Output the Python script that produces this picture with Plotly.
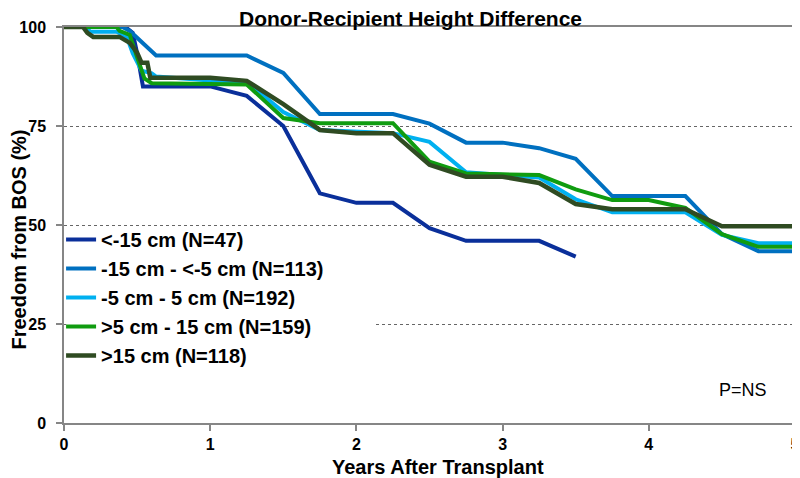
import plotly.graph_objects as go

title = "Donor-Recipient Height Difference"
x_title = "Years After Transplant"
y_title = "Freedom from BOS (%)"
p_text = "P=NS"

names = ["<-15 cm (N=47)", "-15 cm - <-5 cm (N=113)", "-5 cm - 5 cm (N=192)",
         ">5 cm - 15 cm (N=159)", ">15 cm (N=118)"]
colors = ["#0A2F9A", "#0070C0", "#00B0F0", "#109C10", "#2F4B22"]

t1 = [0, 0.42, 0.47, 0.5, 0.54, 1.0, 1.25, 1.5, 1.75, 2.0, 2.25, 2.5, 2.75, 3.0, 3.25, 3.5]
v1 = [100, 100, 98.5, 93.4, 85, 85, 82.6, 75, 58, 55.6, 55.6, 49.2, 46, 46, 46, 42]

t2 = [0, 0.4, 0.45, 0.5, 0.63, 1.25, 1.5, 1.75, 2.0, 2.25, 2.5, 2.75, 3.0, 3.25, 3.5,
      3.75, 4.0, 4.25, 4.5, 4.75, 5.0]
v2 = [100, 100, 99, 97.2, 92.8, 92.8, 88.4, 78, 78, 78, 75.6, 70.8, 70.8, 69.4, 66.7,
      57.3, 57.3, 57.3, 47.7, 43.4, 43.4]

t3 = [0, 0.15, 0.18, 0.36, 0.43, 0.47, 0.53, 0.6, 0.63, 1.0, 1.25, 1.5, 1.75, 2.0, 2.25,
      2.5, 2.75, 3.0, 3.25, 3.5, 3.75, 4.0, 4.25, 4.5, 4.75, 5.0]
v3 = [100, 100, 98.8, 98.8, 97.5, 93.4, 89, 88.3, 87.5, 86.5, 86.2, 78.5, 74, 73.6, 73.2,
      71, 63.3, 62.6, 62, 56.5, 53.2, 53.2, 53.2, 47.5, 45.4, 45.4]

t4 = [0, 0.36, 0.38, 0.45, 0.5, 0.55, 0.6, 1.0, 1.25, 1.5, 1.75, 2.0, 2.25, 2.5, 2.75,
      3.0, 3.25, 3.5, 3.75, 4.0, 4.25, 4.5, 4.75, 5.0]
v4 = [100, 100, 99, 98, 92.4, 87, 85.8, 85.5, 85.5, 77, 75.7, 75.7, 75.7, 66, 63,
      62.8, 62.6, 59, 56.3, 56.3, 54.3, 47.7, 44.5, 44.5]

t5 = [0, 0.13, 0.16, 0.2, 0.38, 0.45, 0.5, 0.53, 0.57, 0.59, 1.0, 1.25, 1.5, 1.75, 2.0,
      2.25, 2.5, 2.75, 3.0, 3.25, 3.5, 3.75, 4.0, 4.25, 4.5, 5.0]
v5 = [100, 100, 98.5, 97.5, 97.5, 96, 93.5, 91, 91, 87.2, 87.2, 86.4, 80.5, 74, 73.2,
      73.2, 65.2, 62.2, 62.2, 60.6, 55.3, 54, 54, 54, 49.7, 49.7]

x_ticks = [0, 1, 2, 3, 4, 5]
y_ticks = [0, 25, 50, 75, 100]

series = [(t1, v1), (t2, v2), (t3, v3), (t4, v4), (t5, v5)]
widths = [4, 4, 4, 4, 4.5]

FONT = "Liberation Sans, Arial, sans-serif"
# the page body adds an 8px offset, so the figure is laid out in page coords minus 8
W, H = 792, 470
L, R, T, B = 56, 5, 19, 55
PW, PH = W - L - R, H - T - B


def px_x(x):
    return (x - L) / PW


def px_y(y):
    return (H - B - y) / PH


fig = go.Figure()
for i, ((t, v), name, col) in enumerate(zip(series, names, colors)):
    fig.add_trace(go.Scatter(x=t, y=v, mode="lines", name=name, legendgroup=f"g{i}",
                             line=dict(color=col, width=widths[i])))

fig.update_layout(
    width=W, height=H,
    margin=dict(l=L, r=R, t=T, b=B, autoexpand=False),
    paper_bgcolor="white", plot_bgcolor="white",
    showlegend=True,
    legend=dict(x=-0.004, xanchor="left", y=px_y(212), yanchor="top",
                bgcolor="rgba(0,0,0,0)",
                font=dict(family=FONT, size=20, color="black", weight="bold"),
                tracegroupgap=0, itemwidth=30),
    shapes=[dict(type="rect", xref="paper", yref="paper", layer="above",
                 x0=0.003, x1=px_x(367), y0=px_y(362), y1=px_y(222),
                 fillcolor="white", line=dict(width=0))],
    annotations=[
        dict(x=px_x(402.5), y=px_y(10), xref="paper", yref="paper",
             xanchor="center", yanchor="middle", text=title, showarrow=False,
             font=dict(family=FONT, size=21, color="black", weight="bold")),
        dict(x=px_x(429.5), y=px_y(459), xref="paper", yref="paper",
             xanchor="center", yanchor="middle", text=x_title, showarrow=False,
             font=dict(family=FONT, size=20, color="black", weight="bold")),
        dict(x=px_x(10.5), y=px_y(232), xref="paper", yref="paper",
             xanchor="center", yanchor="middle", text=y_title, showarrow=False,
             textangle=-90,
             font=dict(family=FONT, size=20, color="black", weight="bold")),
        dict(x=4.645, y=8.3, xref="x", yref="y", text=p_text, showarrow=False,
             font=dict(family=FONT, size=18, color="black")),
    ],
)

fig.update_xaxes(range=[0, 5], tickvals=x_ticks, ticktext=[str(v) for v in x_ticks],
                 automargin=False,
                 showline=True, linecolor="#868686", linewidth=1.5, mirror=True,
                 ticks="outside", ticklen=6, tickcolor="#868686", tickwidth=1.5,
                 showgrid=False, zeroline=False,
                 tickfont=dict(family=FONT, size=16, color="black", weight="bold"))
fig.update_yaxes(range=[0, 100], tickvals=y_ticks, ticktext=[str(v) for v in y_ticks],
                 automargin=False, ticklabelstandoff=7,
                 showline=True, linecolor="#868686", linewidth=1.5, mirror=True,
                 ticks="outside", ticklen=6, tickcolor="#868686", tickwidth=1.5,
                 showgrid=True, gridcolor="#666666", griddash="dot", gridwidth=1,
                 zeroline=False,
                 tickfont=dict(family=FONT, size=16, color="black", weight="bold"))

fig.write_html("out.html")
